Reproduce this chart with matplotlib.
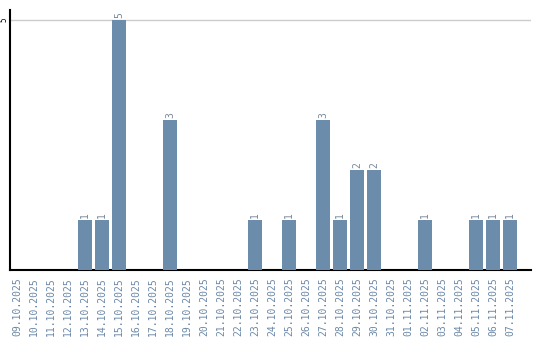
import matplotlib
matplotlib.use("Agg")
import matplotlib.pyplot as plt
import numpy as np

dates = ["09.10.2025", "10.10.2025", "11.10.2025", "12.10.2025", "13.10.2025",
         "14.10.2025", "15.10.2025", "16.10.2025", "17.10.2025", "18.10.2025",
         "19.10.2025", "20.10.2025", "21.10.2025", "22.10.2025", "23.10.2025",
         "24.10.2025", "25.10.2025", "26.10.2025", "27.10.2025", "28.10.2025",
         "29.10.2025", "30.10.2025", "31.10.2025", "01.11.2025", "02.11.2025",
         "03.11.2025", "04.11.2025", "05.11.2025", "06.11.2025", "07.11.2025"]
counts = [0, 0, 0, 0, 1, 1, 5, 0, 0, 3,
          0, 0, 0, 0, 1, 0, 1, 0, 3, 1,
          2, 2, 0, 0, 1, 0, 0, 1, 1, 1]

bar_color = "#6c8cab"
label_color = "#6a88a8"

fig = plt.figure(figsize=(5.4, 3.4), dpi=100)
ax = fig.add_axes([10 / 540, 70 / 340, 521 / 540, 260 / 340])

x = np.arange(len(dates))
ax.bar(x, counts, width=0.82, color=bar_color, zorder=3)

for xi, v in zip(x, counts):
    if v > 0:
        ax.text(xi, v + 0.04, str(v), rotation=90, ha="center", va="bottom",
                fontsize=7, family="DejaVu Sans Mono", color="#7a8899")

ax.set_xlim(-0.41, 30.22)
ax.set_ylim(0, 5.2)
ax.set_yticks([5])
ax.set_yticklabels(["5"], rotation=90, va="center", fontsize=5.5, family="DejaVu Sans Mono")
ax.tick_params(axis="y", length=0, pad=1)
ax.axhline(5, color="#cccccc", linewidth=1, zorder=1)

ax.set_xticks(x)
ax.set_xticklabels(dates, rotation=90, fontsize=7, family="DejaVu Sans Mono", color=label_color)
ax.tick_params(axis="x", length=0, pad=5)

for side in ["top", "right"]:
    ax.spines[side].set_visible(False)
ax.spines["left"].set_linewidth(1.5)
ax.spines["bottom"].set_linewidth(1.5)

fig.savefig("out.png", dpi=100)
